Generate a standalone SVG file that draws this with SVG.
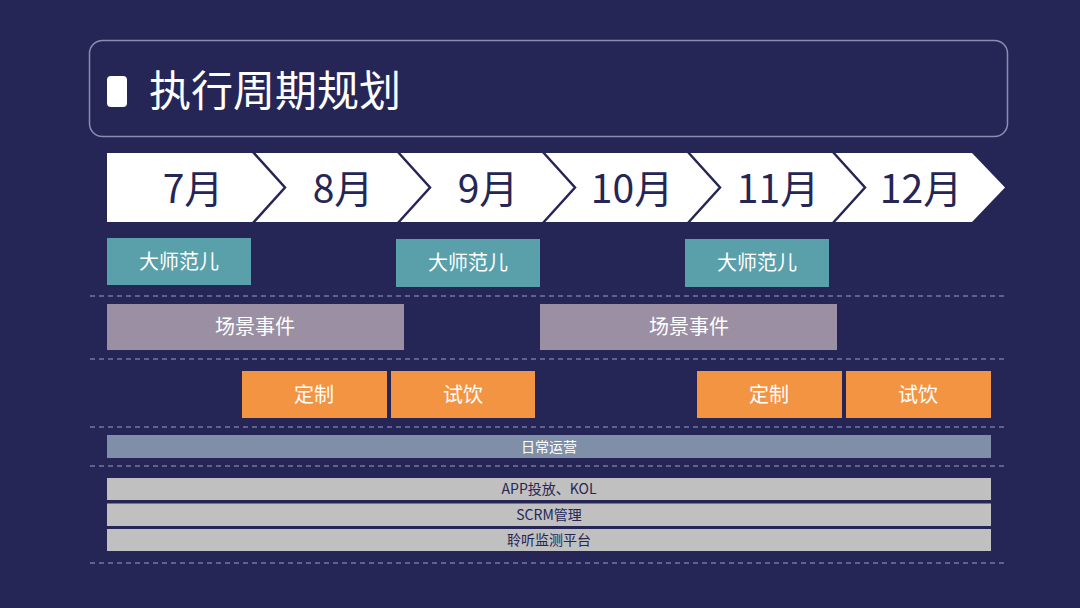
<svg xmlns="http://www.w3.org/2000/svg" width="1080" height="608" viewBox="0 0 1080 608">
<style>
.t{font-family:"Noto Sans CJK SC","Noto Sans",sans-serif}
.mon{font-size:39px;fill:#262656;text-anchor:middle}
.lbl{font-size:20px;fill:#ffffff;text-anchor:middle}
.sm{font-size:14px;text-anchor:middle}
.dash{stroke:#9a9dbd;stroke-width:1.2;stroke-dasharray:5 4;fill:none}
.sep{stroke:#262656;stroke-width:2.5;fill:none}
</style>
<rect width="1080" height="608" fill="#262656"/>
<g id="title">
<rect x="89.500" y="40.500" width="918" height="96" rx="13" fill="#262656" stroke="#8a8eb0" stroke-width="1.500"/>
<rect x="107" y="76" width="20" height="31" rx="4" fill="#ffffff"/>
<text class="t" x="149" y="106" font-size="42" fill="#ffffff">执行周期规划</text>
</g>
<g id="timeline">
<polygon points="107,153 972,153 1005,187.500 972,222 107,222" fill="#ffffff"/>
<g id="connectors">
<polyline class="sep" points="252,151 285,187.500 252,224"/>
<polyline class="sep" points="397,151 430,187.500 397,224"/>
<polyline class="sep" points="542,151 575,187.500 542,224"/>
<polyline class="sep" points="687,151 720,187.500 687,224"/>
<polyline class="sep" points="832,151 865,187.500 832,224"/>
</g>
<text class="t mon" x="193" y="203">7月</text>
<text class="t mon" x="343" y="203">8月</text>
<text class="t mon" x="488" y="203">9月</text>
<text class="t mon" x="632" y="203">10月</text>
<text class="t mon" x="778" y="203">11月</text>
<text class="t mon" x="921" y="203">12月</text>
</g>
<g id="dashes">
<line class="dash" x1="90" y1="296" x2="1008" y2="296"/>
<line class="dash" x1="90" y1="359" x2="1008" y2="359"/>
<line class="dash" x1="90" y1="427" x2="1008" y2="427"/>
<line class="dash" x1="90" y1="466" x2="1008" y2="466"/>
<line class="dash" x1="90" y1="563" x2="1008" y2="563"/>
</g>
<g id="master1"><rect x="107" y="238" width="144" height="47" fill="#5aa0aa"/><text class="t lbl" x="179" y="269">大师范儿</text></g>
<g id="master2"><rect x="396" y="239" width="144" height="48" fill="#5aa0aa"/><text class="t lbl" x="468" y="270">大师范儿</text></g>
<g id="master3"><rect x="685" y="239" width="144" height="48" fill="#5aa0aa"/><text class="t lbl" x="757" y="270">大师范儿</text></g>
<g id="scene1"><rect x="107" y="304" width="297" height="46" fill="#9a8fa3"/><text class="t lbl" x="255" y="334">场景事件</text></g>
<g id="scene2"><rect x="540" y="304" width="297" height="46" fill="#9a8fa3"/><text class="t lbl" x="689" y="334">场景事件</text></g>
<g id="custom1"><rect x="242" y="371" width="145" height="47" fill="#f39443"/><text class="t lbl" x="314" y="402">定制</text></g>
<g id="taste1"><rect x="391" y="371" width="144" height="47" fill="#f39443"/><text class="t lbl" x="463" y="402">试饮</text></g>
<g id="custom2"><rect x="697" y="371" width="145" height="47" fill="#f39443"/><text class="t lbl" x="769" y="402">定制</text></g>
<g id="taste2"><rect x="846" y="371" width="145" height="47" fill="#f39443"/><text class="t lbl" x="918" y="402">试饮</text></g>
<g id="daily"><rect x="107" y="435" width="884" height="23" fill="#7f8fa8"/><text class="t sm" x="549" y="452" fill="#ffffff">日常运营</text></g>
<g id="app"><rect x="107" y="478" width="884" height="22" fill="#c0c0c0"/><text class="t sm" x="549" y="494" fill="#262656">APP投放、KOL</text></g>
<g id="scrm"><rect x="107" y="503.500" width="884" height="22.500" fill="#c0c0c0"/><text class="t sm" x="549" y="520" fill="#262656">SCRM管理</text></g>
<g id="listen"><rect x="107" y="529" width="884" height="22" fill="#c0c0c0"/><text class="t sm" x="549" y="545" fill="#262656">聆听监测平台</text></g>
</svg>
